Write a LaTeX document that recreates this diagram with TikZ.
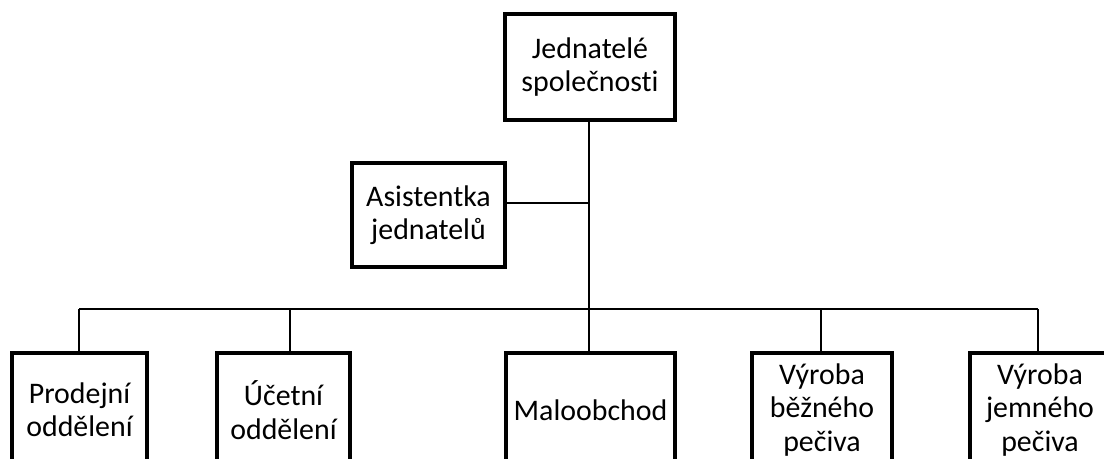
\documentclass[tikz,border=0pt]{standalone}
\usepackage{fontspec}
\setmainfont[Ligatures=NoCommon]{Carlito}
\begin{document}
\begin{tikzpicture}[%
  unit/.style={draw, line width=1.8pt, align=center, inner sep=0pt,
    font=\fontsize{17}{19}\selectfont},
  top unit/.style={unit, minimum height=2.28cm},
  link/.style={line width=1.1pt}]
  \useasboundingbox (0,0) rectangle (22.08,-9.18);
  \clip (0,0) rectangle (22.08,-9.18);
  % vedeni
  \node[unit, minimum width=3.4cm, minimum height=2.12cm] (ceo) at (11.8,-1.34)
    {Jednatelé\\společnosti};
  \node[unit, minimum width=3.06cm, minimum height=2.08cm] (asst) at (8.57,-4.3)
    {Asistentka\\jednatelů};
  % oddeleni
  \node[top unit, minimum width=2.7cm] (sales) at (1.59,-8.2) {Prodejní\\oddělení};
  \node[top unit, minimum width=2.66cm] (acct) at (5.67,-8.2) {Účetní\\oddělení};
  \node[top unit, minimum width=3.38cm] (retail) at (11.81,-8.2) {Maloobchod};
  \node[top unit, minimum width=2.8cm] (common) at (16.44,-8.2) {Výroba\\běžného\\pečiva};
  \node[top unit, minimum width=2.8cm] (fine) at (20.8,-8.2) {Výroba\\jemného\\pečiva};
  % spojnice
  \coordinate (bus) at (11.78,-6.18);
  \coordinate (ajoin) at (11.78,-4.06);
  \coordinate (d1) at (1.58,-6.18);
  \coordinate (d2) at (5.8,-6.18);
  \coordinate (d4) at (16.42,-6.18);
  \coordinate (d5) at (20.76,-6.18);
  \draw[link] (ceo.south -| bus) -- (bus);
  \draw[link] (ajoin) -- (asst.east |- ajoin);
  \draw[link] (d1) -- (d5);
  \draw[link] (d1) -- (d1 |- sales.north);
  \draw[link] (d2) -- (d2 |- acct.north);
  \draw[link] (bus) -- (bus |- retail.north);
  \draw[link] (d4) -- (d4 |- common.north);
  \draw[link] (d5) -- (d5 |- fine.north);
\end{tikzpicture}
\end{document}
